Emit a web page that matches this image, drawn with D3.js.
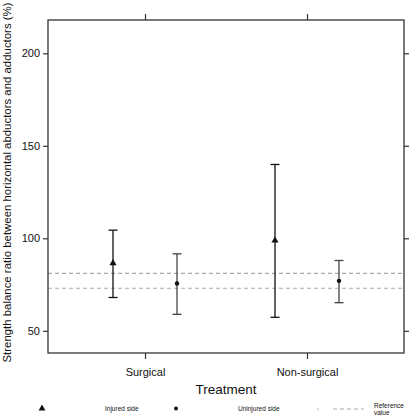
<!DOCTYPE html>
<html><head><meta charset="utf-8">
<script src="https://cdn.jsdelivr.net/npm/d3@7"></script>
<style>body{margin:0;background:#fff}svg{display:block;font-family:Arial,"Liberation Sans",sans-serif}</style>
</head><body><svg id="c" width="414" height="418"></svg>
<script>
const categories = ["Surgical", "Non-surgical"];
const series = ["Injured side", "Uninjured side"];
const means = [[86.6, 75.6], [98.8, 77.0]];
const lower = [[68.0, 58.9], [57.3, 65.2]];
const upper = [[104.4, 91.6], [139.9, 88.0]];
const referenceValues = [73, 81];
const yTicks = [50, 100, 150, 200];
const yDomain = [38, 218];

const svg = d3.select("#c");
const L = 48, R = 404, T = 20, B = 353;
const y = d3.scaleLinear().domain(yDomain).range([B, T]);
const x = d3.scalePoint().domain(categories).range([145, 307]);
const off = d3.scalePoint().domain(series).range([-32, 32]);

// reference lines
svg.selectAll("line.ref").data(referenceValues).join("line")
  .attr("x1", L).attr("x2", R).attr("y1", d => y(d)).attr("y2", d => y(d))
  .attr("stroke", "#aaa").attr("stroke-width", 1.2).attr("stroke-dasharray", "4,3");

// axes
const frame = "#333";
const gl = svg.append("g").attr("transform", `translate(${L},0)`)
  .call(d3.axisLeft(y).tickValues(yTicks).tickSize(5).tickPadding(3).tickSizeOuter(0));
const gr = svg.append("g").attr("transform", `translate(${R},0)`)
  .call(d3.axisRight(y).tickValues(yTicks).tickSize(5).tickFormat("").tickSizeOuter(0));
const gb = svg.append("g").attr("transform", `translate(0,${B})`)
  .call(d3.axisBottom(x).tickSize(6).tickPadding(9).tickSizeOuter(0));
const gt = svg.append("g").attr("transform", `translate(0,${T})`)
  .call(d3.axisTop(x).tickSize(6).tickFormat("").tickSizeOuter(0));
[gl, gr, gb, gt].forEach(g => {
  g.select(".domain").remove();
  g.selectAll("line").attr("stroke", frame).attr("stroke-width", 1.2);
  g.selectAll("text").attr("fill", "#111").attr("font-size", 11).attr("font-family", "Arial, Liberation Sans, sans-serif");
});
svg.append("rect").attr("x", L).attr("y", T).attr("width", R - L).attr("height", B - T)
  .attr("fill", "none").attr("stroke", frame).attr("stroke-width", 1.3);

// error bars
const data = [];
categories.forEach((c, i) => series.forEach((s, j) => data.push({c, s, m: means[i][j], lo: lower[i][j], hi: upper[i][j]})));
const col = s => s === series[0] ? "#111" : "#444";
const g = svg.append("g");
data.forEach(d => {
  const cx = x(d.c) + off(d.s);
  g.append("line").attr("x1", cx).attr("x2", cx).attr("y1", y(d.lo)).attr("y2", y(d.hi)).attr("stroke", col(d.s)).attr("stroke-width", 1.3);
  [d.lo, d.hi].forEach(v => g.append("line").attr("x1", cx - 4.5).attr("x2", cx + 4.5).attr("y1", y(v)).attr("y2", y(v)).attr("stroke", col(d.s)).attr("stroke-width", 1.3));
  if (d.s === series[0]) {
    g.append("path").attr("d", d3.symbol(d3.symbolTriangle, 22)()).attr("transform", `translate(${cx},${y(d.m)})`).attr("fill", "#111");
  } else {
    g.append("circle").attr("cx", cx).attr("cy", y(d.m)).attr("r", 2.2).attr("fill", "#111");
  }
});

// axis titles
svg.append("text").attr("x", 226).attr("y", 394).attr("text-anchor", "middle").attr("font-size", 13.5).attr("fill", "#111").text("Treatment");
svg.append("text").attr("transform", "translate(10.5,182.5) rotate(-90)").attr("text-anchor", "middle")
  .attr("font-size", 11).attr("fill", "#111")
  .attr("textLength", 360).attr("lengthAdjust", "spacingAndGlyphs")
  .text("Strength balance ratio between horizontal abductors and adductors (%)");

// legend
const lg = svg.append("g").attr("font-size", 6.5).attr("fill", "#111");
lg.append("path").attr("d", d3.symbol(d3.symbolTriangle, 20)()).attr("transform", "translate(42,408.5)").attr("fill", "#111");
lg.append("text").attr("x", 105).attr("y", 411).text(series[0]);
lg.append("circle").attr("cx", 176).attr("cy", 408.5).attr("r", 2).attr("fill", "#111");
lg.append("text").attr("x", 238).attr("y", 411).text(series[1]);
lg.append("circle").attr("cx", 318).attr("cy", 409).attr("r", 0.6).attr("fill", "#555");
lg.append("line").attr("x1", 333).attr("x2", 364).attr("y1", 409).attr("y2", 409).attr("stroke", "#aaa").attr("stroke-width", 1).attr("stroke-dasharray", "4,3");
lg.append("text").attr("x", 374).attr("y", 407.5).text("Reference");
lg.append("text").attr("x", 374).attr("y", 415).text("value");
</script></body></html>
